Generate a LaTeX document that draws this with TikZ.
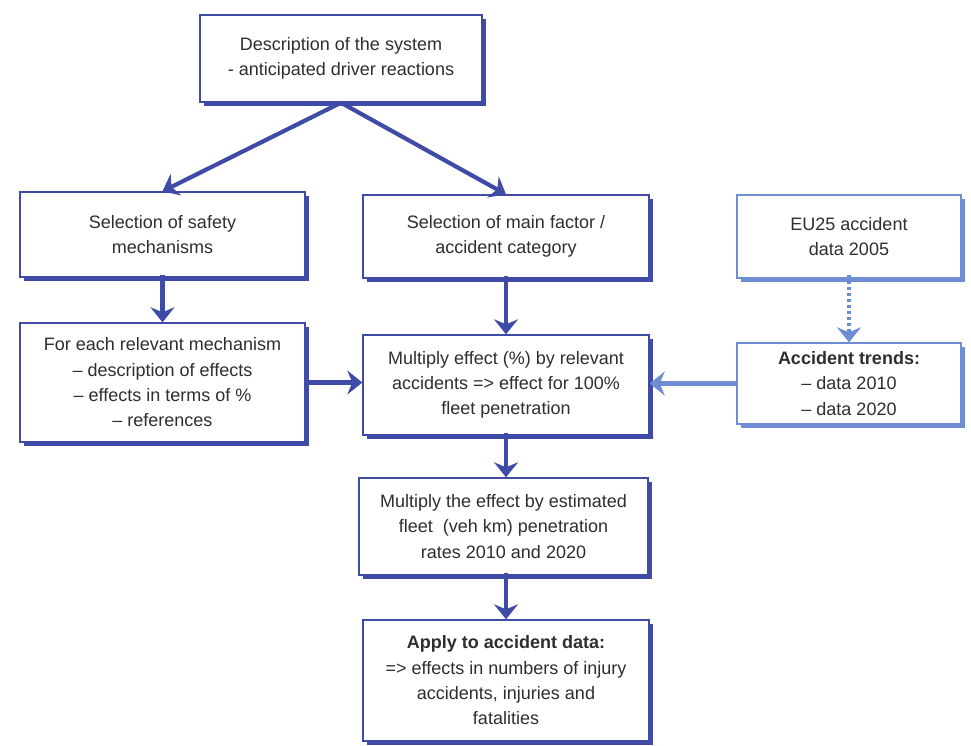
\documentclass[tikz,border=0pt]{standalone}
\usepackage{fontspec}
\setmainfont{Liberation Sans}
\usetikzlibrary{arrows.meta,shadows}
\definecolor{dkblue}{HTML}{3F4BA6}
\definecolor{ltblue}{HTML}{6E8DD2}
\definecolor{txt}{HTML}{2E2E2E}
\tikzset{
  box/.style={draw=#1, line width=1.4pt, fill=white, align=center, text=txt,
    font=\fontsize{18}{25.3}\selectfont, inner sep=0pt,
    drop shadow={shadow xshift=3.5pt, shadow yshift=-3.5pt, fill=#1, opacity=1}},
  box/.default=dkblue,
  arr/.style={draw=#1, line width=4.2pt,
    -{Stealth[length=15pt,width=24pt,inset=5pt]}},
  arr/.default=dkblue
}
\begin{document}
\begin{tikzpicture}[x=1pt,y=-1pt]
\useasboundingbox (0,0) rectangle (971,745);
\node[box, minimum width=282pt, minimum height=87pt] (top) at (341,58.5)
  {Description of the system\\- anticipated driver reactions};
\node[box, minimum width=285pt, minimum height=85pt] (l1) at (162.5,234.5)
  {Selection of safety\\mechanisms};
\node[box, minimum width=286pt, minimum height=83pt] (m1) at (506,236.5)
  {Selection of main factor /\\accident category};
\node[box=ltblue, minimum width=224pt, minimum height=83pt] (r1) at (849,236.5)
  {EU25 accident\\data 2005};
\node[box, minimum width=285pt, minimum height=119pt] (l2) at (162.5,382.5)
  {For each relevant mechanism\\– description of effects\\– effects in terms of \%\\– references};
\node[box, minimum width=286pt, minimum height=100pt] (m2) at (506,385)
  {Multiply effect (\%) by relevant\\accidents => effect for 100\%\\fleet penetration};
\node[box=ltblue, minimum width=224pt, minimum height=81pt] (r2) at (849,383.5)
  {\textbf{Accident trends:}\\– data 2010\\– data 2020};
\node[box, minimum width=289pt, minimum height=97pt] (m3) at (503.5,526.5)
  {Multiply the effect by estimated\\fleet \ (veh km) penetration\\rates 2010 and 2020};
\node[box, minimum width=286pt, minimum height=121pt] (m4) at (506,680.5)
  {\textbf{Apply to accident data:}\\=> effects in numbers of injury\\accidents, injuries and\\fatalities};
\draw[arr] (top.south) -- (l1.north);
\draw[arr] (top.south) -- (m1.north);
\draw[arr] ([yshift=3pt]l1.south) -- (l2.north);
\draw[arr] ([yshift=3pt]m1.south) -- (m2.north);
\draw[arr] ([xshift=3pt]l2.east) -- (l2.east -| m2.west);
\draw[arr=ltblue] (r2.west) -- (r2.west -| m2.east);
\draw[arr=ltblue, dash pattern=on 3.5pt off 2.5pt] ([yshift=4pt]r1.south) -- (r2.north);
\draw[arr] ([yshift=3pt]m2.south) -- (m2.south |- m3.north);
\draw[arr] ([yshift=3pt]m3.south -| m4.north) -- (m4.north);
\end{tikzpicture}
\end{document}
